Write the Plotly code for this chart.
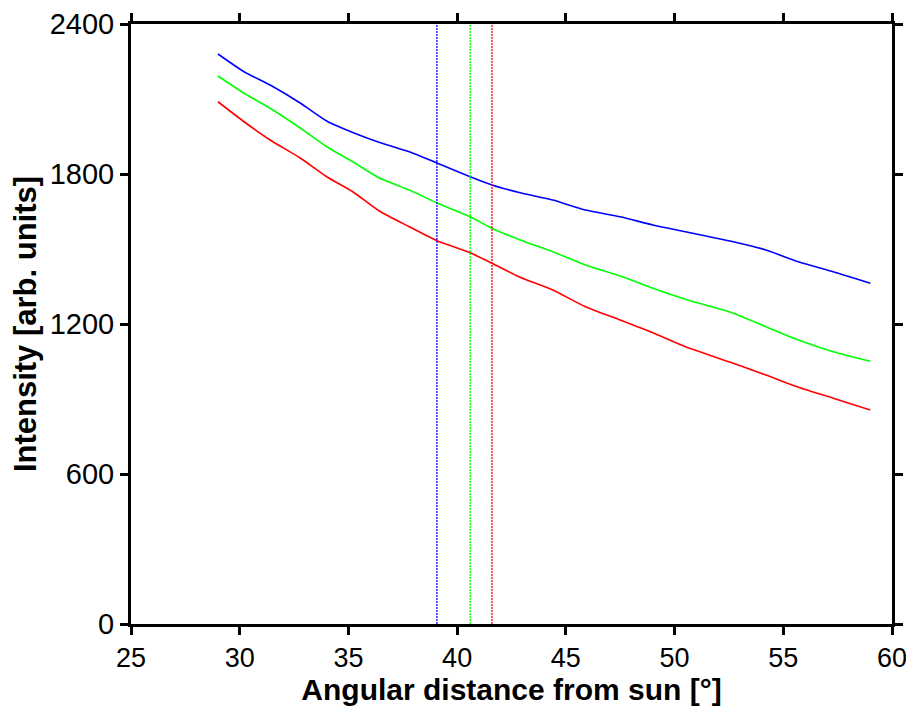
import plotly.graph_objects as go

angle = [29.0, 30.2, 31.4, 32.8, 34.0, 35.2, 36.4, 37.8, 39.1, 40.6, 41.6,
         42.9, 44.4, 45.9, 47.5, 49.0, 50.5, 52.7, 54.2, 55.7, 57.3, 59.0]
blue_vals = [2280, 2209, 2156, 2083, 2012, 1966, 1927, 1889, 1843, 1789, 1756,
             1725, 1696, 1656, 1629, 1596, 1569, 1529, 1496, 1449, 1409, 1363]
green_vals = [2192, 2123, 2063, 1983, 1909, 1849, 1785, 1736, 1683, 1629, 1583,
              1536, 1489, 1436, 1392, 1343, 1299, 1243, 1189, 1136, 1089, 1051]
red_vals = [2089, 2009, 1936, 1863, 1789, 1729, 1653, 1589, 1532, 1485, 1443,
            1387, 1336, 1269, 1216, 1165, 1109, 1043, 996, 947, 903, 856]

vline_x = {"blue": 39.07, "green": 40.6, "red": 41.6}
y_span = [0, 2400]
x_ticks = [25, 30, 35, 40, 45, 50, 55, 60]
y_ticks = [0, 600, 1200, 1800, 2400]

colors = {"blue": "#0000FF", "green": "#00FF00", "red": "#FF0000"}

fig = go.Figure()
for name, vals in [("blue", blue_vals), ("green", green_vals), ("red", red_vals)]:
    fig.add_trace(go.Scatter(x=angle, y=vals, mode="lines",
                             line=dict(color=colors[name], width=1.6,
                                       shape="spline", smoothing=0.6),
                             showlegend=False, hoverinfo="skip"))
for name, xv in vline_x.items():
    fig.add_trace(go.Scatter(x=[xv, xv], y=y_span, mode="lines",
                             line=dict(color=colors[name], width=1.3, dash="2px,1px"),
                             showlegend=False, hoverinfo="skip"))

font = "Liberation Sans, Arial, sans-serif"
axis_common = dict(showline=True, linecolor="black", linewidth=3, mirror="allticks",
                   ticks="outside", ticklen=8, tickwidth=3, tickcolor="black",
                   showgrid=False, zeroline=False, automargin=False)

fig.update_xaxes(range=[25, 60], tickvals=x_ticks, **axis_common,
                 tickfont=dict(family=font, size=27, color="black"),
                 title=dict(text="<b>Angular distance from sun [°]</b>",
                            font=dict(family=font, size=30, color="black"), standoff=4))
fig.update_yaxes(range=[0, 2400], tickvals=y_ticks, **axis_common,
                 tickfont=dict(family=font, size=29, color="black"),
                 title=dict(text="<b>Intensity [arb. units]</b>",
                            font=dict(family=font, size=31, color="black"), standoff=4))

# page body has an 8px default margin; compensate so plot area matches reference
fig.update_layout(width=906, height=698, margin=dict(l=123, r=22, t=16, b=82),
                  plot_bgcolor="white", paper_bgcolor="white")

fig.write_html("out.html")
